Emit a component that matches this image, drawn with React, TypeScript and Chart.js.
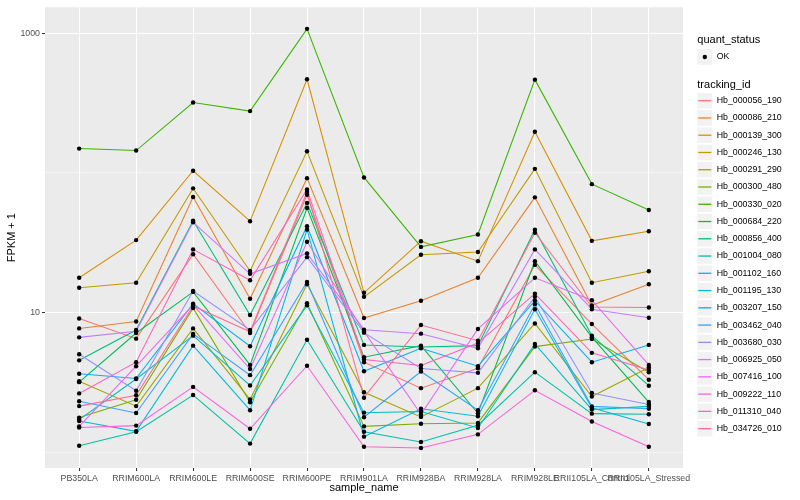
import React, { useEffect, useRef } from "react";
import { Chart, registerables } from "chart.js";

Chart.register(...registerables);

const sampleNames = [
  "PB350LA",
  "RRIM600LA",
  "RRIM600LE",
  "RRIM600SE",
  "RRIM600PE",
  "RRIM901LA",
  "RRIM928BA",
  "RRIM928LA",
  "RRIM928LE",
  "RRII105LA_Control",
  "RRII105LA_Stressed",
];

const trackingIds = [
  "Hb_000056_190",
  "Hb_000086_210",
  "Hb_000139_300",
  "Hb_000246_130",
  "Hb_000291_290",
  "Hb_000300_480",
  "Hb_000330_020",
  "Hb_000684_220",
  "Hb_000856_400",
  "Hb_001004_080",
  "Hb_001102_160",
  "Hb_001195_130",
  "Hb_003207_150",
  "Hb_003462_040",
  "Hb_003680_030",
  "Hb_006925_050",
  "Hb_007416_100",
  "Hb_009222_110",
  "Hb_011310_040",
  "Hb_034726_010",
];

const seriesColors = [
  "#F8766D", "#EA8331", "#D89000", "#C09B00", "#A3A500",
  "#7CAE00", "#39B600", "#00BB4E", "#00BF7D", "#00C1A3",
  "#00BFC4", "#00BAE0", "#00B0F6", "#35A2FF", "#9590FF",
  "#C77CFF", "#E76BF3", "#FA62DB", "#FF62BC", "#FF6C91",
];

// FPKM + 1 values per sample (same order as sampleNames)
const Hb_000056_190 = [9.11, 6.53, 26.2, 7.17, 69.9, 4.43, 2.89, 4.01, 22.0, 8.31, 3.32];
const Hb_000086_210 = [7.73, 8.67, 67.3, 12.6, 91.8, 9.17, 12.2, 17.8, 66.9, 11.3, 16.0];
const Hb_000139_300 = [17.8, 33.1, 103.7, 45.2, 468, 13.9, 32.5, 23.4, 197, 32.7, 38.3];
const Hb_000246_130 = [15.1, 16.4, 77.6, 19.9, 143, 13.0, 26.0, 27.2, 107, 16.4, 19.8];
const Hb_000291_290 = [3.24, 2.15, 7.73, 2.4, 16.0, 2.7, 1.8, 2.89, 8.39, 2.52, 4.06];
const Hb_000300_480 = [1.78, 2.39, 10.8, 2.29, 11.7, 1.54, 1.61, 1.63, 5.73, 6.5, 3.76];
const Hb_000330_020 = [149.4, 144.6, 319, 277, 1073, 92.9, 29.6, 36.3, 465, 83.2, 54.4];
const Hb_000684_220 = [3.19, 7.17, 14.1, 4.24, 56.2, 4.81, 5.82, 1.91, 23.4, 6.69, 2.3];
const Hb_000856_400 = [4.57, 7.53, 45.5, 9.63, 61.0, 5.89, 5.7, 5.82, 39.3, 6.86, 3.01];
const Hb_001004_080 = [1.12, 1.41, 2.58, 1.16, 6.42, 1.41, 1.19, 1.57, 3.76, 1.9, 1.88];
const Hb_001102_160 = [1.72, 3.36, 6.86, 3.02, 11.3, 1.93, 1.97, 1.5, 5.99, 2.03, 2.14];
const Hb_001195_130 = [1.68, 1.42, 5.82, 2.01, 39.3, 1.3, 2.06, 1.82, 10.6, 2.09, 1.6];
const Hb_003207_150 = [3.66, 3.39, 11.6, 5.76, 41.6, 3.82, 5.57, 4.15, 12.2, 4.43, 5.89];
const Hb_003462_040 = [2.33, 1.92, 7.06, 3.58, 16.6, 1.79, 3.8, 2.01, 11.5, 2.14, 2.06];
const Hb_003680_030 = [5.05, 2.77, 14.3, 7.53, 25.0, 7.21, 3.99, 3.72, 13.0, 2.67, 2.21];
const Hb_006925_050 = [6.67, 7.38, 44.4, 19.0, 26.6, 7.57, 7.09, 5.57, 28.4, 10.6, 9.21];
const Hb_007416_100 = [1.54, 4.15, 11.4, 3.96, 32.2, 7.36, 1.88, 7.66, 17.8, 12.3, 4.24];
const Hb_009222_110 = [1.51, 1.56, 2.95, 1.48, 4.18, 1.1, 1.08, 1.35, 2.79, 1.67, 1.1];
const Hb_011310_040 = [2.65, 4.43, 28.4, 17.1, 76.3, 4.63, 4.2, 6.07, 13.7, 5.17, 3.9];
const Hb_034726_010 = [2.15, 2.57, 11.2, 7.32, 73.2, 2.47, 8.17, 6.32, 37.4, 11.0, 10.9];

const seriesValues = [
  Hb_000056_190, Hb_000086_210, Hb_000139_300, Hb_000246_130, Hb_000291_290,
  Hb_000300_480, Hb_000330_020, Hb_000684_220, Hb_000856_400, Hb_001004_080,
  Hb_001102_160, Hb_001195_130, Hb_003207_150, Hb_003462_040, Hb_003680_030,
  Hb_006925_050, Hb_007416_100, Hb_009222_110, Hb_011310_040, Hb_034726_010,
];

const yMajorTicks = [10, 1000];
const yMinorTicks = [1, 100];
const quantStatus = ["OK"];

const FONT = "'Liberation Sans', Arial, Helvetica, sans-serif";

export default function App() {
  const ref = useRef<HTMLCanvasElement>(null);

  useEffect(() => {
    const canvas = ref.current;
    if (!canvas) return;

    const panelBg = {
      id: "panelBg",
      beforeDraw(chart: any) {
        const { ctx, chartArea: a } = chart;
        ctx.save();
        ctx.fillStyle = "#EBEBEB";
        ctx.fillRect(a.left, a.top, a.right - a.left, a.bottom - a.top);
        ctx.restore();
      },
    };

    const ggLegend = {
      id: "ggLegend",
      afterDraw(chart: any) {
        const ctx = chart.ctx;
        const x0 = 697.3;
        const keyW = 15;
        const keyH = 15.6;
        ctx.save();
        ctx.textAlign = "left";
        ctx.textBaseline = "middle";
        ctx.fillStyle = "#000";
        ctx.font = `11px ${FONT}`;
        ctx.fillText("quant_status", x0, 40);
        // quant_status key
        const qy = 57;
        ctx.fillStyle = "#F2F2F2";
        ctx.fillRect(x0, qy - keyH / 2, keyW, keyH);
        ctx.fillStyle = "#000";
        ctx.beginPath();
        ctx.arc(x0 + keyW / 2, qy, 2.2, 0, Math.PI * 2);
        ctx.fill();
        ctx.font = `8.8px ${FONT}`;
        ctx.fillText(quantStatus[0], 716.7, qy);

        ctx.font = `11px ${FONT}`;
        ctx.fillText("tracking_id", x0, 84.5);
        const step = 17.26;
        trackingIds.forEach((id, i) => {
          const cy = 100.7 + i * step;
          ctx.fillStyle = "#F2F2F2";
          ctx.fillRect(x0, cy - keyH / 2, keyW, keyH);
          ctx.strokeStyle = seriesColors[i];
          ctx.lineWidth = 1.3;
          ctx.beginPath();
          ctx.moveTo(x0 + 1, cy);
          ctx.lineTo(x0 + keyW - 1, cy);
          ctx.stroke();
          ctx.fillStyle = "#000";
          ctx.font = `8.8px ${FONT}`;
          ctx.fillText(id, 716.7, cy);
        });
        ctx.restore();
      },
    };

    const pointData: { x: number; y: number }[] = [];
    seriesValues.forEach((vals) =>
      vals.forEach((v, j) => pointData.push({ x: j + 1, y: v }))
    );

    const datasets: any[] = [
      {
        type: "line",
        label: "quant_status",
        data: pointData,
        showLine: false,
        pointRadius: 2.2,
        pointBackgroundColor: "#000000",
        pointBorderWidth: 0,
        pointBorderColor: "#000000",
        order: -100,
      },
      ...seriesValues.map((vals, i) => ({
        type: "line",
        label: trackingIds[i],
        data: vals.map((v, j) => ({ x: j + 1, y: v })),
        borderColor: seriesColors[i],
        borderWidth: 1.07,
        pointRadius: 0,
        fill: false,
        tension: 0,
        order: 100 - i,
      })),
    ];

    const chart = new Chart(canvas, {
      type: "line",
      data: { datasets },
      options: {
        responsive: false,
        animation: false,
        layout: { padding: { left: 0, top: 5, right: 117, bottom: 0 } },
        plugins: {
          legend: { display: false },
          tooltip: { enabled: false },
        },
        scales: {
          x: {
            type: "linear",
            min: 0.4,
            max: 11.6,
            afterBuildTicks: (s: any) => {
              s.ticks = sampleNames.map((_, i) => ({ value: i + 1 }));
            },
            afterFit: (s: any) => {
              s.height = 32;
            },
            ticks: {
              callback: (v: any) => sampleNames[Math.round(Number(v)) - 1] ?? "",
              autoSkip: false,
              maxRotation: 0,
              minRotation: 0,
              color: "#4D4D4D",
              font: { family: FONT, size: 8.8 },
              padding: 2,
            },
            grid: {
              color: "#FFFFFF",
              lineWidth: 1.07,
              tickLength: 3,
              tickColor: "#333333",
              drawTicks: true,
            },
            border: { display: false },
            title: {
              display: true,
              text: "sample_name",
              color: "#000000",
              font: { family: FONT, size: 11 },
              padding: { top: 0, bottom: 5.4 },
            },
          },
          y: {
            type: "logarithmic",
            min: 0.776,
            max: 1531,
            afterBuildTicks: (s: any) => {
              s.ticks = [...yMinorTicks, ...yMajorTicks]
                .sort((a, b) => a - b)
                .map((v) => ({ value: v }));
            },
            afterFit: (s: any) => {
              s.width = 45;
            },
            ticks: {
              callback: (v: any) => (yMajorTicks.includes(Number(v)) ? String(v) : ""),
              color: "#4D4D4D",
              font: { family: FONT, size: 8.8 },
              padding: 2,
            },
            grid: {
              color: "#FFFFFF",
              lineWidth: (c: any) => (yMajorTicks.includes(c.tick?.value) ? 1.07 : 0.53),
              tickColor: (c: any) =>
                yMajorTicks.includes(c.tick?.value) ? "#333333" : "rgba(0,0,0,0)",
              tickLength: 3,
              drawTicks: true,
            },
            border: { display: false },
            title: {
              display: true,
              text: "FPKM + 1",
              color: "#000000",
              font: { family: FONT, size: 11 },
              padding: { top: 5.4, bottom: 0 },
            },
          },
        },
      } as any,
      plugins: [panelBg, ggLegend],
    });

    return () => chart.destroy();
  }, []);

  return (
    <div style={{ position: "absolute", left: 0, top: 0, width: 800, height: 500 }}>
      <canvas ref={ref} width={800} height={500} style={{ display: "block" }} />
    </div>
  );
}
